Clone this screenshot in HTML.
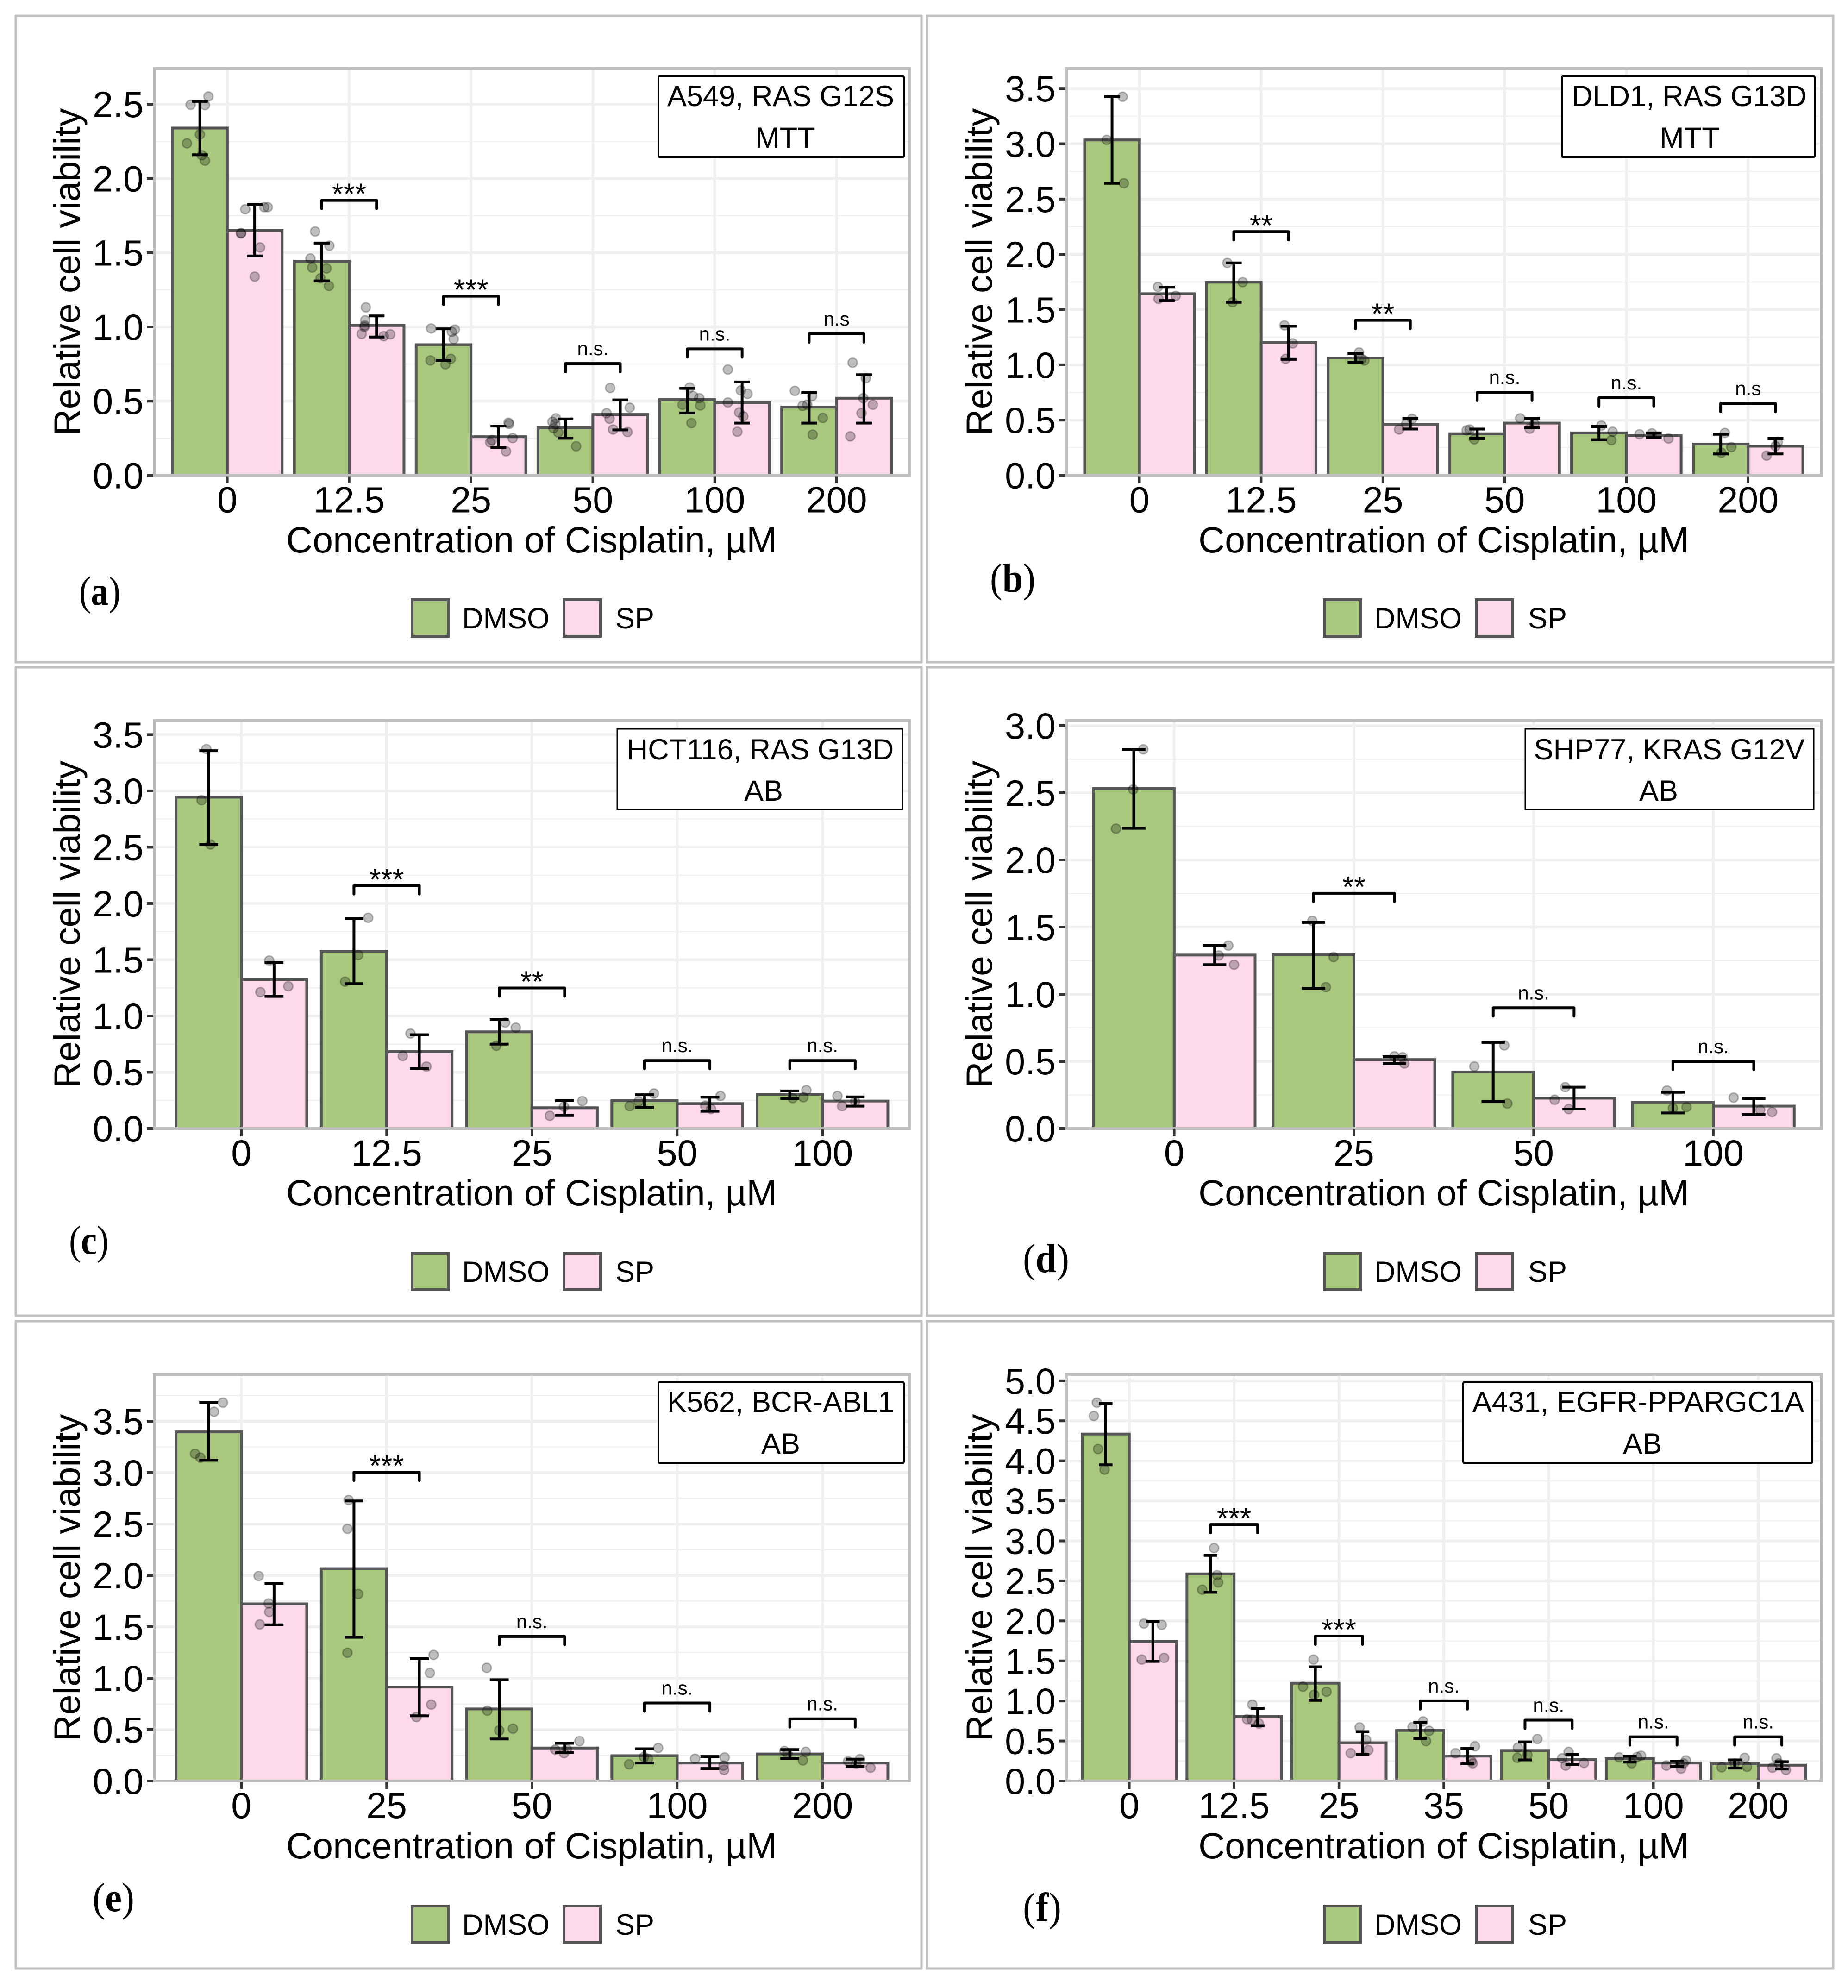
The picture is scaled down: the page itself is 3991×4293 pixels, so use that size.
<!DOCTYPE html>
<html lang="en">
<head>
<meta charset="utf-8">
<title>Relative cell viability panels</title>
<style>
html,body{margin:0;padding:0;background:#fff}
svg{display:block}
text{font-family:"Liberation Sans",Arial,sans-serif;fill:#000}
.serif{font-family:"Liberation Serif","Times New Roman",serif}
.axt{font-size:79px}
.ins{font-size:63px;text-anchor:middle}
.leg{font-size:63px}
</style>
</head>
<body>
<svg id="figure" xmlns="http://www.w3.org/2000/svg" width="3991" height="4293" viewBox="0 0 3991 4293">
<rect x="0" y="0" width="3991" height="4293" fill="#fff"/>

<!-- Panel a -->
<g>
<rect x="34" y="34" width="1956" height="1396" fill="#fff" stroke="#bfbfbf" stroke-width="5"/>
<g id="plot-a"></g>
<g><rect x="1422" y="165" width="530" height="174" rx="2" fill="#fff" stroke="#000" stroke-width="4"/>
<text class="ins" x="1686" y="229">A549, RAS G12S</text><text class="ins" x="1696" y="319">MTT</text></g>
<text class="axt" text-anchor="middle" transform="translate(172,587) rotate(-90)">Relative cell viability</text>
<text class="axt" text-anchor="middle" x="1148" y="1193">Concentration of Cisplatin, µM</text>
<text class="serif" font-size="88" textLength="89" lengthAdjust="spacingAndGlyphs" x="171" y="1306">(<tspan font-weight="bold">a</tspan>)</text>
<g><rect x="890" y="1295" width="78" height="79" fill="#a8c87d" stroke="#555" stroke-width="6"/><text class="leg" x="998" y="1357">DMSO</text><rect x="1218" y="1295" width="79" height="79" fill="#fdd9eb" stroke="#555" stroke-width="6"/><text class="leg" x="1329" y="1357">SP</text></g>
</g>

<!-- Panel b -->
<g>
<rect x="2002" y="34" width="1957" height="1396" fill="#fff" stroke="#bfbfbf" stroke-width="5"/>
<g id="plot-b"></g>
<g><rect x="3373" y="165" width="546" height="174" rx="2" fill="#fff" stroke="#000" stroke-width="4"/>
<text class="ins" x="3648" y="229">DLD1, RAS G13D</text><text class="ins" x="3649" y="319">MTT</text></g>
<text class="axt" text-anchor="middle" transform="translate(2142,587) rotate(-90)">Relative cell viability</text>
<text class="axt" text-anchor="middle" x="3118" y="1193">Concentration of Cisplatin, µM</text>
<text class="serif" font-size="88" textLength="98" lengthAdjust="spacingAndGlyphs" x="2138" y="1278">(<tspan font-weight="bold">b</tspan>)</text>
<g><rect x="2860" y="1295" width="78" height="79" fill="#a8c87d" stroke="#555" stroke-width="6"/><text class="leg" x="2968" y="1357">DMSO</text><rect x="3188" y="1295" width="79" height="79" fill="#fdd9eb" stroke="#555" stroke-width="6"/><text class="leg" x="3300" y="1357">SP</text></g>
</g>

<!-- Panel c -->
<g>
<rect x="34" y="1441" width="1956" height="1400" fill="#fff" stroke="#bfbfbf" stroke-width="5"/>
<g id="plot-c"></g>
<g><rect x="1333" y="1574" width="616" height="174" fill="#fff" stroke="#000" stroke-width="3"/>
<text class="ins" x="1642" y="1640">HCT116, RAS G13D</text><text class="ins" x="1649" y="1729">AB</text></g>
<text class="axt" text-anchor="middle" transform="translate(172,1996) rotate(-90)">Relative cell viability</text>
<text class="axt" text-anchor="middle" x="1148" y="2603">Concentration of Cisplatin, µM</text>
<text class="serif" font-size="88" textLength="86" lengthAdjust="spacingAndGlyphs" x="149" y="2708">(<tspan font-weight="bold">c</tspan>)</text>
<g><rect x="890" y="2707" width="78" height="78" fill="#a8c87d" stroke="#555" stroke-width="6"/><text class="leg" x="998" y="2768">DMSO</text><rect x="1218" y="2707" width="79" height="78" fill="#fdd9eb" stroke="#555" stroke-width="6"/><text class="leg" x="1329" y="2768">SP</text></g>
</g>

<!-- Panel d -->
<g>
<rect x="2002" y="1441" width="1957" height="1400" fill="#fff" stroke="#bfbfbf" stroke-width="5"/>
<g id="plot-d"></g>
<g><rect x="3294" y="1574" width="623" height="174" fill="#fff" stroke="#000" stroke-width="3"/>
<text class="ins" x="3605" y="1640">SHP77, KRAS G12V</text><text class="ins" x="3582" y="1729">AB</text></g>
<text class="axt" text-anchor="middle" transform="translate(2142,1996) rotate(-90)">Relative cell viability</text>
<text class="axt" text-anchor="middle" x="3118" y="2603">Concentration of Cisplatin, µM</text>
<text class="serif" font-size="88" textLength="100" lengthAdjust="spacingAndGlyphs" x="2209" y="2747">(<tspan font-weight="bold">d</tspan>)</text>
<g><rect x="2860" y="2707" width="78" height="78" fill="#a8c87d" stroke="#555" stroke-width="6"/><text class="leg" x="2968" y="2768">DMSO</text><rect x="3188" y="2707" width="79" height="78" fill="#fdd9eb" stroke="#555" stroke-width="6"/><text class="leg" x="3300" y="2768">SP</text></g>
</g>

<!-- Panel e -->
<g>
<rect x="34" y="2853" width="1956" height="1398" fill="#fff" stroke="#bfbfbf" stroke-width="5"/>
<g id="plot-e"></g>
<g><rect x="1422" y="2985" width="530" height="174" rx="2" fill="#fff" stroke="#000" stroke-width="4"/>
<text class="ins" x="1686" y="3049">K562, BCR-ABL1</text><text class="ins" x="1686" y="3139">AB</text></g>
<text class="axt" text-anchor="middle" transform="translate(172,3407) rotate(-90)">Relative cell viability</text>
<text class="axt" text-anchor="middle" x="1148" y="4013">Concentration of Cisplatin, µM</text>
<text class="serif" font-size="88" textLength="90" lengthAdjust="spacingAndGlyphs" x="200" y="4127">(<tspan font-weight="bold">e</tspan>)</text>
<g><rect x="890" y="4116" width="78" height="79" fill="#a8c87d" stroke="#555" stroke-width="6"/><text class="leg" x="998" y="4178">DMSO</text><rect x="1218" y="4116" width="79" height="79" fill="#fdd9eb" stroke="#555" stroke-width="6"/><text class="leg" x="1329" y="4178">SP</text></g>
</g>

<!-- Panel f -->
<g>
<rect x="2002" y="2853" width="1957" height="1398" fill="#fff" stroke="#bfbfbf" stroke-width="5"/>
<g id="plot-f"></g>
<g><rect x="3160" y="2985" width="754" height="174" rx="2" fill="#fff" stroke="#000" stroke-width="4"/>
<text class="ins" x="3538" y="3049">A431, EGFR-PPARGC1A</text><text class="ins" x="3547" y="3139">AB</text></g>
<text class="axt" text-anchor="middle" transform="translate(2142,3407) rotate(-90)">Relative cell viability</text>
<text class="axt" text-anchor="middle" x="3118" y="4013">Concentration of Cisplatin, µM</text>
<text class="serif" font-size="88" textLength="83" lengthAdjust="spacingAndGlyphs" x="2209" y="4148">(<tspan font-weight="bold">f</tspan>)</text>
<g><rect x="2860" y="4116" width="78" height="79" fill="#a8c87d" stroke="#555" stroke-width="6"/><text class="leg" x="2968" y="4178">DMSO</text><rect x="3188" y="4116" width="79" height="79" fill="#fdd9eb" stroke="#555" stroke-width="6"/><text class="leg" x="3300" y="4178">SP</text></g>
</g>
</svg>

<script>
// ---------- Panel a ----------
const aCategories=["0","12.5","25","50","100","200"];
const aYTicks=[0,0.5,1,1.5,2,2.5];
const aDmso=[2.34,1.44,0.88,0.32,0.51,0.46];
const aSp=[1.65,1.01,0.26,0.41,0.49,0.52];
const aDmsoHigh=[2.52,1.565,0.987,0.38,0.586,0.557];
const aDmsoLow=[2.16,1.31,0.774,0.25,0.42,0.352];
const aSpHigh=[1.827,1.074,0.332,0.508,0.629,0.678];
const aSpLow=[1.478,0.932,0.188,0.306,0.352,0.352];
const aDmsoPts=[[2.553,2.497,2.495,2.297,2.237,2.157,2.12],[1.643,1.547,1.461,1.4,1.394,1.328,1.276],[0.99,0.982,0.967,0.918,0.785,0.774,0.748],[0.384,0.361,0.346,0.318,0.289,0.196],[0.592,0.534,0.52,0.476,0.471,0.352],[0.569,0.534,0.476,0.468,0.387,0.274]];
const aDmsoJitter=[[0.07,-0.076,0.042,0,-0.106,0.016,0.042],[-0.054,0.063,-0.093,-0.078,0.039,-0.01,0.059],[-0.102,0.093,0.068,0.083,0.059,-0.107,0.015],[-0.078,-0.107,-0.083,-0.098,-0.059,0.088],[0.02,0.049,0.098,-0.039,0.107,0.034],[-0.117,0.024,-0.015,-0.054,0.112,0.029]];
const aSpPts=[[1.793,1.807,1.807,1.631,1.631,1.536,1.339],[1.132,1.045,1.01,1.0,0.953,0.938,0.95],[0.355,0.346,0.251,0.222,0.237,0.162],[0.589,0.456,0.419,0.381,0.309,0.292],[0.713,0.572,0.549,0.491,0.424,0.398,0.294],[0.759,0.655,0.52,0.476,0.419,0.263]];
const aSpJitter=[[-0.078,0.078,0.107,-0.112,-0.112,0.044,0],[-0.088,-0.093,-0.098,-0.1,-0.122,0.059,0.112],[0.083,0.088,0.117,-0.068,-0.054,0.063],[-0.083,0.078,-0.112,-0.088,-0.059,0.059],[-0.117,-0.01,0.044,-0.117,-0.024,0.01,-0.039],[-0.093,0.015,-0.005,0.073,-0.02,-0.112]];
const aBracketCats=[1,2,3,4,5];
const aBracketAt=[1.853,1.207,0.753,0.852,0.953];
const aBracketLabels=["***","***","n.s.","n.s.","n.s"];

// ---------- Panel b ----------
const bCategories=["0","12.5","25","50","100","200"];
const bYTicks=[0,0.5,1,1.5,2,2.5,3,3.5];
const bDmso=[3.035,1.748,1.062,0.376,0.384,0.283];
const bSp=[1.643,1.202,0.461,0.473,0.36,0.264];
const bDmsoHigh=[3.426,1.922,1.1,0.419,0.442,0.372];
const bDmsoLow=[2.643,1.566,1.023,0.333,0.322,0.194];
const bSpHigh=[1.702,1.349,0.516,0.516,0.384,0.333];
const bSpLow=[1.581,1.05,0.419,0.43,0.341,0.194];
const bDmsoPts=[[3.426,3.035,2.643],[1.922,1.748,1.566],[1.112,1.039,1.054],[0.407,0.326,0.415],[0.45,0.395,0.318],[0.384,0.256,0.205]];
const bDmsoJitter=[[0.087,-0.044,0.097],[-0.053,0.073,-0.01],[0.029,0.073,0.049],[-0.087,-0.024,-0.063],[0.02,0.112,0.102],[0.034,0.087,0.005]];
const bSpPts=[[1.705,1.624,1.597],[1.357,1.194,1.054],[0.512,0.465,0.415],[0.516,0.422,0.465],[0.372,0.38,0.333],[0.302,0.178,0.264]];
const bSpJitter=[[-0.073,0.073,-0.068],[-0.034,0.034,-0.024],[0.015,-0.034,-0.092],[-0.097,-0.02,0.02],[-0.117,-0.015,0.121],[0.019,-0.073,0]];
const bBracketCats=[1,2,3,4,5];
const bBracketAt=[2.205,1.403,0.752,0.702,0.651];
const bBracketLabels=["**","**","n.s.","n.s.","n.s"];

// ---------- Panel c ----------
const cCategories=["0","12.5","25","50","100"];
const cYTicks=[0,0.5,1,1.5,2,2.5,3,3.5];
const cDmso=[2.944,1.575,0.859,0.248,0.304];
const cSp=[1.324,0.683,0.184,0.221,0.244];
const cDmsoHigh=[3.357,1.864,0.968,0.3,0.334];
const cDmsoLow=[2.524,1.287,0.75,0.188,0.266];
const cSpHigh=[1.474,0.833,0.248,0.278,0.281];
const cSpLow=[1.174,0.533,0.116,0.154,0.199];
const cDmsoPts=[[3.372,2.918,2.524],[1.872,1.542,1.305],[0.941,0.896,0.735],[0.311,0.24,0.199],[0.341,0.27,0.278]];
const cDmsoJitter=[[-0.016,-0.049,0.012],[0.098,0.029,-0.061],[0.041,0.114,-0.02],[0.065,-0.041,-0.102],[0.114,0.02,0.094]];
const cSpPts=[[1.493,1.264,1.212],[0.844,0.645,0.551],[0.244,0.195,0.113],[0.289,0.203,0.173],[0.289,0.199,0.24]];
const cSpJitter=[[-0.033,0.098,-0.094],[-0.061,-0.114,0.049],[0.122,-0.004,-0.102],[0.073,-0.033,0.008],[-0.122,-0.09,0]];
const cBracketCats=[1,2,3,4];
const cBracketAt=[2.157,1.249,0.604,0.604];
const cBracketLabels=["***","**","n.s.","n.s."];

// ---------- Panel d ----------
const dCategories=["0","25","50","100"];
const dYTicks=[0,0.5,1,1.5,2,2.5,3];
const dDmso=[2.531,1.296,0.421,0.195];
const dSp=[1.292,0.513,0.226,0.167];
const dDmsoHigh=[2.821,1.535,0.642,0.27];
const dDmsoLow=[2.236,1.044,0.201,0.116];
const dSpHigh=[1.362,0.535,0.308,0.223];
const dSpLow=[1.22,0.484,0.145,0.104];
const dDmsoPts=[[2.824,2.525,2.233],[1.547,1.277,1.053],[0.619,0.462,0.186],[0.283,0.16,0.151]];
const dDmsoJitter=[[0.053,-0.003,-0.099],[-0.007,0.112,0.069],[0.062,-0.105,0.079],[-0.033,0.076,0]];
const dSpPts=[[1.362,1.289,1.22],[0.538,0.531,0.484],[0.308,0.214,0.145],[0.23,0.138,0.123]];
const dSpJitter=[[0.076,0.023,0.108],[0,0.046,0.056],[-0.049,-0.108,-0.03],[-0.112,0.036,0.102]];
const dBracketCats=[1,2,3];
const dBracketAt=[1.752,0.899,0.5];
const dBracketLabels=["**","n.s.","n.s."];

// ---------- Panel e ----------
const eCategories=["0","25","50","100","200"];
const eYTicks=[0,0.5,1,1.5,2,2.5,3,3.5];
const eDmso=[3.396,2.065,0.701,0.246,0.263];
const eSp=[1.723,0.914,0.321,0.175,0.175];
const eDmsoHigh=[3.68,2.724,0.985,0.313,0.305];
const eDmsoLow=[3.12,1.398,0.409,0.175,0.221];
const eSpHigh=[1.923,1.189,0.367,0.238,0.213];
const eSpLow=[1.519,0.634,0.275,0.121,0.142];
const eDmsoPts=[[3.68,3.592,3.183,3.146],[2.733,2.453,1.819,1.247],[1.101,0.684,0.492,0.509],[0.321,0.217,0.163,0.234],[0.292,0.284,0.2,0.267]];
const eDmsoJitter=[[0.098,0.037,-0.094,-0.057],[-0.037,-0.045,0.029,-0.045],[-0.086,-0.082,0,0.094],[0.094,0.024,-0.106,-0.004],[-0.037,0.11,0.09,-0.016]];
const eSpPts=[[1.994,1.727,1.644,1.523],[1.227,1.051,0.743,0.622],[0.388,0.305,0.271,0.309],[0.217,0.229,0.15,0.108],[0.192,0.213,0.129,0.171]];
const eSpJitter=[[-0.106,-0.037,-0.033,-0.098],[0.098,0.073,0.082,-0.02],[0.102,-0.065,-0.004,0.016],[-0.102,0.102,0.094,0.098],[-0.049,0.033,0.106,0.008]];
const eBracketCats=[1,2,3,4];
const eBracketAt=[3.004,1.406,0.759,0.605];
const eBracketLabels=["***","n.s.","n.s.","n.s."];

// ---------- Panel f ----------
const fCategories=["0","12.5","25","35","50","100","200"];
const fYTicks=[0,0.5,1,1.5,2,2.5,3,3.5,4,4.5,5];
const fDmso=[4.335,2.588,1.222,0.632,0.38,0.279,0.214];
const fSp=[1.742,0.804,0.477,0.311,0.268,0.225,0.198];
const fDmsoHigh=[4.721,2.819,1.426,0.734,0.488,0.311,0.263];
const fDmsoLow=[3.95,2.358,1.008,0.531,0.263,0.236,0.161];
const fSpHigh=[1.994,0.906,0.616,0.407,0.332,0.247,0.241];
const fSpLow=[1.495,0.691,0.332,0.214,0.204,0.182,0.15];
const fDmsoPts=[[4.727,4.561,4.148,3.891],[2.91,2.572,2.481,2.39],[1.517,1.179,1.115,1.077],[0.745,0.675,0.627,0.498],[0.525,0.418,0.289,0.327],[0.316,0.295,0.22,0.3],[0.289,0.171,0.177,0.22]];
const fDmsoJitter=[[-0.085,-0.113,-0.073,-0.011],[0.034,0.062,0.073,-0.079],[-0.017,-0.118,0.107,-0.011],[0.028,-0.073,0.085,0.056],[0.118,-0.068,-0.073,0.023],[0.107,-0.101,0.017,0.068],[0.096,-0.124,0.118,0]];
const fSpPts=[[1.967,1.951,1.517,1.538],[0.954,0.772,0.766,0.718],[0.67,0.514,0.386,0.348],[0.434,0.348,0.247,0.22],[0.364,0.284,0.225,0.193],[0.257,0.193,0.155,0.22],[0.284,0.166,0.139,0.22]];
const fSpJitter=[[-0.085,0.085,-0.107,0.107],[-0.051,-0.101,-0.056,0.011],[-0.028,0.034,0.056,-0.113],[0.073,-0.113,0.039,0.051],[-0.034,-0.096,0.113,-0.062],[0.085,-0.101,0.039,0.062],[-0.051,-0.09,0.039,-0.028]];
const fBracketCats=[1,2,3,4,5,6];
const fBracketAt=[3.205,1.811,1.002,0.761,0.552,0.552];
const fBracketLabels=["***","***","n.s.","n.s.","n.s.","n.s."];

const SVGNS='http://www.w3.org/2000/svg';
function mk(parent,tag,attrs,txt){
  const n=document.createElementNS(SVGNS,tag);
  for(const k in attrs){n.setAttribute(k,attrs[k]);}
  if(txt!==undefined){n.textContent=txt;}
  parent.appendChild(n);
  return n;
}

function drawPanel(id,box,yMax,categories,yTicks,dmso,sp,dHigh,dLow,sHigh,sLow,dPts,dJit,sPts,sJit,brCats,brAt,brLabels){
  const g=document.getElementById(id);
  const L=box[0],R=box[1],T=box[2],B=box[3];
  const band=(R-L)/(categories.length+0.2);
  const xTick=i=>L+(i+0.6)*band;
  const y=v=>B-(v/yMax)*(B-T);
  const barW=0.45*band;
  let el;

  el=mk(g,'rect',{x:L,y:T,width:R-L,height:B-T,fill:'#fff'});
  
  

  // minor grid
  const step=yTicks[1]-yTicks[0];
  for(let v=step/2;v<yMax;v+=step){
    el=mk(g,'line',{x1:L,x2:R,y1:y(v),y2:y(v),stroke:'#f2f2f2','stroke-width':3});
    
    
  }
  // major grid
  yTicks.forEach(v=>{
    el=mk(g,'line',{x1:L,x2:R,y1:y(v),y2:y(v),stroke:'#f0f0f0','stroke-width':6});
    
    
  });
  categories.forEach((c,i)=>{
    el=mk(g,'line',{x1:xTick(i),x2:xTick(i),y1:T,y2:B,stroke:'#f0f0f0','stroke-width':6});
    
    
  });

  // bars
  categories.forEach((c,i)=>{
    el=mk(g,'rect',{x:xTick(i)-barW,y:y(dmso[i]),width:barW,height:B-y(dmso[i]),fill:'#a8c87d',stroke:'#555','stroke-width':6});
    
    
    el=mk(g,'rect',{x:xTick(i),y:y(sp[i]),width:barW,height:B-y(sp[i]),fill:'#fdd9eb',stroke:'#555','stroke-width':6});
    
    
  });

  // replicate points
  categories.forEach((c,i)=>{
    const cd=xTick(i)-barW/2, cs=xTick(i)+barW/2;
    dPts[i].forEach((v,j)=>{
      el=mk(g,'circle',{cx:cd+dJit[i][j]*band,cy:y(v),r:10,fill:'#000','fill-opacity':0.25,stroke:'#000','stroke-opacity':0.25,'stroke-width':3});
      
      
    });
    sPts[i].forEach((v,j)=>{
      el=mk(g,'circle',{cx:cs+sJit[i][j]*band,cy:y(v),r:10,fill:'#000','fill-opacity':0.25,stroke:'#000','stroke-opacity':0.25,'stroke-width':3});
      
      
    });
  });

  // error bars
  const capW=0.13*band;
  function errorBar(cx,hi,lo){
    const e=mk(g,'path',{d:'M'+cx+' '+y(hi)+'V'+y(lo)+'M'+(cx-capW/2)+' '+y(hi)+'H'+(cx+capW/2)+'M'+(cx-capW/2)+' '+y(lo)+'H'+(cx+capW/2),fill:'none',stroke:'#000','stroke-width':6});
    return e;
  }
  categories.forEach((c,i)=>{
    el=errorBar(xTick(i)-barW/2,dHigh[i],dLow[i]);
    
    
    el=errorBar(xTick(i)+barW/2,sHigh[i],sLow[i]);
    
    
  });

  // plot border
  el=mk(g,'rect',{x:L,y:T,width:R-L,height:B-T,fill:'none',stroke:'#bebebe','stroke-width':6});
  
  

  // y axis
  yTicks.forEach(v=>{
    el=mk(g,'line',{x1:L-16,x2:L-2,y1:y(v),y2:y(v),stroke:'#333','stroke-width':6});
    
    
    el=mk(g,'text',{x:L-23,y:y(v)+28,'text-anchor':'end','font-size':79},v.toFixed(1));
    
    
  });
  // x axis
  categories.forEach((c,i)=>{
    el=mk(g,'line',{x1:xTick(i),x2:xTick(i),y1:B+2,y2:B+17,stroke:'#333','stroke-width':5.5});
    
    
    el=mk(g,'text',{x:xTick(i),y:B+80,'text-anchor':'middle','font-size':79},c);
    
    
  });

  // significance brackets
  brCats.forEach((ci,k)=>{
    const xa=xTick(ci)-barW/2, xb=xTick(ci)+barW/2, yy=y(brAt[k]);
    el=mk(g,'path',{d:'M'+xa+' '+(yy+18)+'V'+yy+'H'+xb+'V'+(yy+18),fill:'none',stroke:'#000','stroke-width':6,'stroke-linecap':'round','stroke-linejoin':'round'});
    
    
    const isStar=brLabels[k].charAt(0)==='*';
    el=mk(g,'text',{x:xTick(ci),y:isStar?yy+8:yy-18,'text-anchor':'middle','font-size':isStar?64:42},brLabels[k]);
    
    
  });
}

drawPanel('plot-a',[333,1964.5,148,1026.5],2.741,aCategories,aYTicks,aDmso,aSp,aDmsoHigh,aDmsoLow,aSpHigh,aSpLow,aDmsoPts,aDmsoJitter,aSpPts,aSpJitter,aBracketCats,aBracketAt,aBracketLabels);
drawPanel('plot-b',[2303,3933,148,1026.5],3.681,bCategories,bYTicks,bDmso,bSp,bDmsoHigh,bDmsoLow,bSpHigh,bSpLow,bDmsoPts,bDmsoJitter,bSpPts,bSpJitter,bBracketCats,bBracketAt,bBracketLabels);
drawPanel('plot-c',[333,1964.5,1556,2437],3.625,cCategories,cYTicks,cDmso,cSp,cDmsoHigh,cDmsoLow,cSpHigh,cSpLow,cDmsoPts,cDmsoJitter,cSpPts,cSpJitter,cBracketCats,cBracketAt,cBracketLabels);
drawPanel('plot-d',[2303,3933,1556,2437],3.038,dCategories,dYTicks,dDmso,dSp,dDmsoHigh,dDmsoLow,dSpHigh,dSpLow,dDmsoPts,dDmsoJitter,dSpPts,dSpJitter,dBracketCats,dBracketAt,dBracketLabels);
drawPanel('plot-e',[333,1964.5,2968,3846],3.955,eCategories,eYTicks,eDmso,eSp,eDmsoHigh,eDmsoLow,eSpHigh,eSpLow,eDmsoPts,eDmsoJitter,eSpPts,eSpJitter,eBracketCats,eBracketAt,eBracketLabels);
drawPanel('plot-f',[2303,3933,2968,3846],5.08,fCategories,fYTicks,fDmso,fSp,fDmsoHigh,fDmsoLow,fSpHigh,fSpLow,fDmsoPts,fDmsoJitter,fSpPts,fSpJitter,fBracketCats,fBracketAt,fBracketLabels);
</script>
</body>
</html>
